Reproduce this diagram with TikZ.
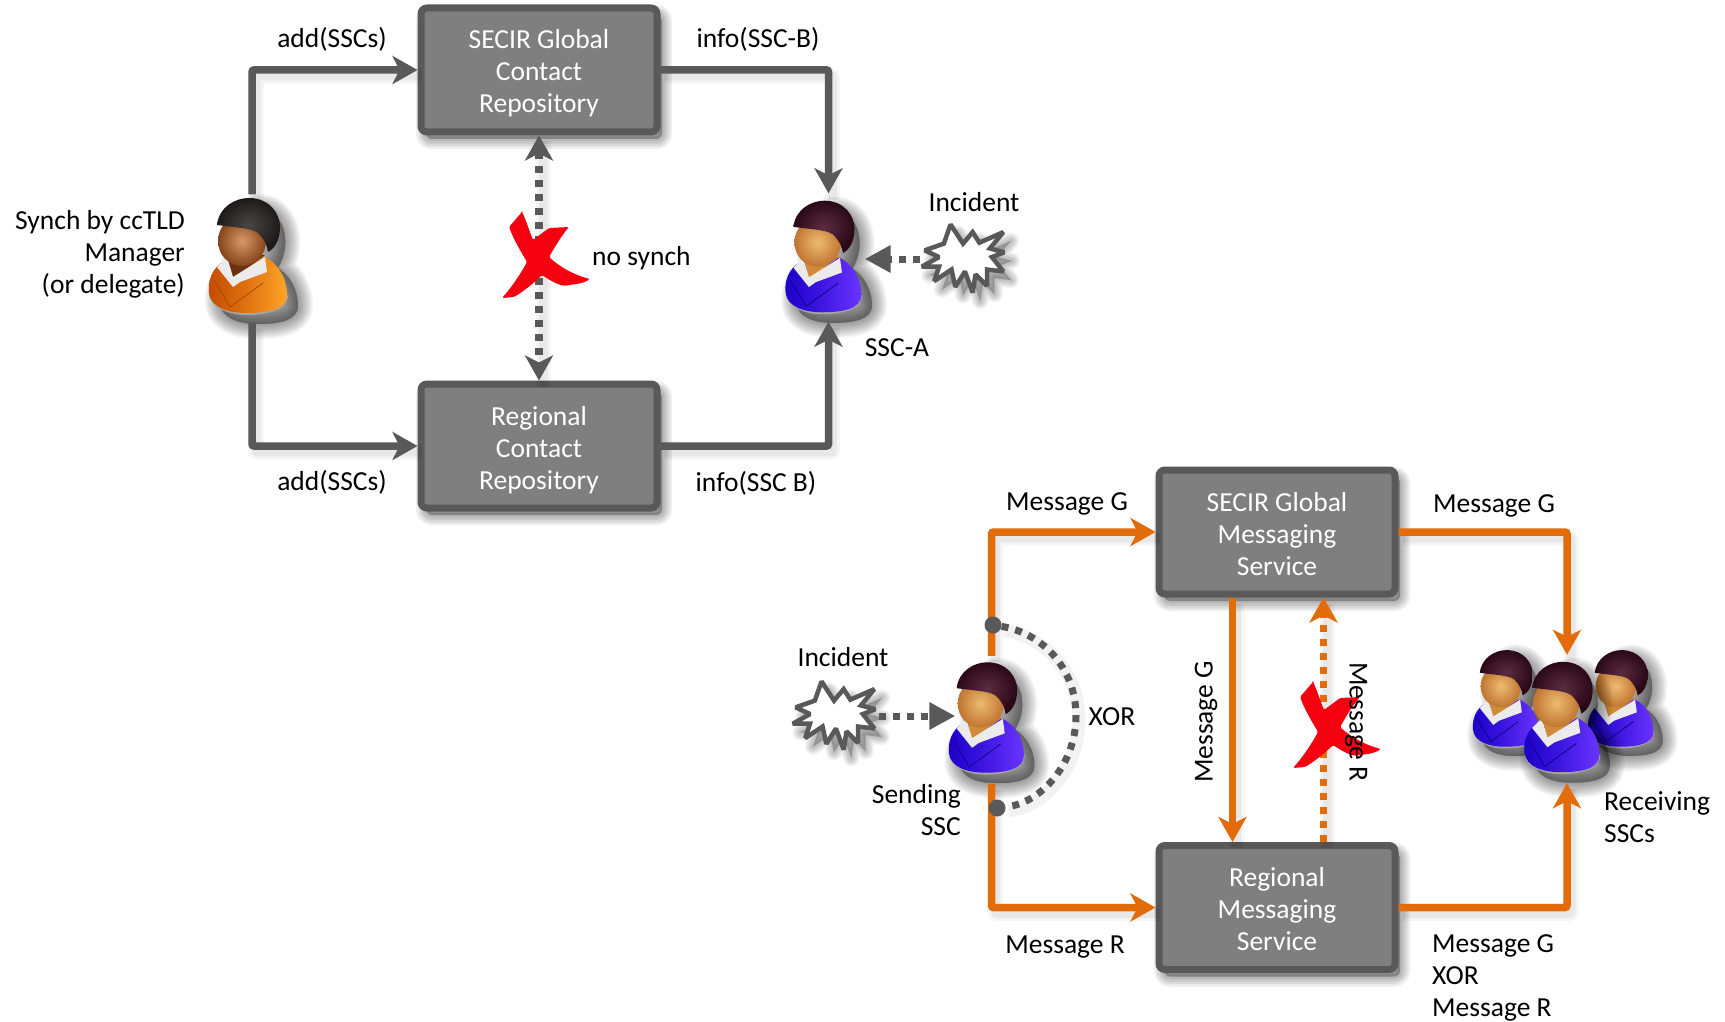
\documentclass[tikz,border=0pt]{standalone}
\usepackage{fontspec}
\setmainfont{Carlito}
\usetikzlibrary{arrows.meta,shapes.misc}
\definecolor{lnGray}{HTML}{595959}
\definecolor{boxGray}{HTML}{7F7F7F}
\definecolor{lnOrange}{HTML}{E36C0A}
\definecolor{xRed}{HTML}{F5000F}
\newcommand\softlayers[1]{\foreach \w in {30,27,24,21,18,15,12,9,6,3}{\path[fill=black,draw=black,fill opacity=.042,draw opacity=.042,line width=\w pt,line join=round] #1;}}
\newcommand\boxtext[3]{\rule{0pt}{29pt}#1\\#2\\#3\rule[-7pt]{0pt}{7pt}}
\newcommand\orangepal{\definecolor{bodyA}{HTML}{C44A00}\definecolor{bodyB}{HTML}{FFA426}\definecolor{skinA}{HTML}{D59A66}\definecolor{skinB}{HTML}{85431A}\definecolor{hairA}{HTML}{4A4644}\definecolor{hairB}{HTML}{1E1A18}\definecolor{lapel}{HTML}{A84A00}\definecolor{neckC}{HTML}{6E3110}}
\newcommand\bluepal{\definecolor{bodyA}{HTML}{1A00C8}\definecolor{bodyB}{HTML}{6A34FF}\definecolor{skinA}{HTML}{EDBB72}\definecolor{skinB}{HTML}{C07530}\definecolor{hairA}{HTML}{5C2C40}\definecolor{hairB}{HTML}{2A0818}\definecolor{lapel}{HTML}{14008C}\definecolor{neckC}{HTML}{D08A3A}}
% #1 position, #2 scale, #3 palette
\newcommand\drawperson[3]{\begin{scope}[shift={#1},scale=#2]#3
 \begin{scope}[shift={(11,11)}]
  \softlayers{(-38,38) .. controls (-40,20) and (-30,8) .. (-18,4) .. controls (-32,-30) and (-15,-57) .. (2,-57) .. controls (24,-57) and (36,-25) .. (20,2) .. controls (30,8) and (40,22) .. (40,40) .. controls (40,55) and (20,58) .. (0,58) .. controls (-20,58) and (-36,52) .. (-38,38) -- cycle}
 \end{scope}
 \path[fill=white!65!black] (-38,40) .. controls (-36,52) and (-20,60) .. (0,60) .. controls (20,60) and (41,55) .. (41,40) -- cycle;
 \path[left color=bodyA,right color=bodyB,middle color=bodyA!55!bodyB] (-38,38) .. controls (-40,20) and (-30,8) .. (-18,4) -- (18,2) .. controls (30,8) and (40,22) .. (40,40) .. controls (40,55) and (20,58) .. (0,58) .. controls (-20,58) and (-36,52) .. (-38,38) -- cycle;
 \path[draw=lapel,line width=.8pt] (-33,25) -- (-17,52) -- (16,28);
 \path[fill=neckC] (-20,0) -- (18,0) -- (-14,24) -- cycle;
 \path[fill=white!92!black] (-30,12) -- (-20,2) -- (-14,22) -- (18,2) -- (20,17) -- (-7,27) -- (-14,32) -- cycle;
 \path[inner color=skinA,outer color=skinB] (-5,-14) ellipse (24 and 25);
 \path[inner color=hairA,outer color=hairB] (-30,-30) .. controls (-28,-48) and (-12,-57) .. (2,-57) .. controls (22,-57) and (33,-42) .. (33,-28) .. controls (33,-14) and (27,-6) .. (21,-3) .. controls (20,-10) and (18,-14) .. (13,-20) .. controls (8,-27) and (-8,-27) .. (-30,-30) -- cycle;
\end{scope}}
\newcommand\drawstar[1]{\begin{scope}[shift={#1},scale=.96]
 \def\starpath{(-14,-36) -- (-1,-16) -- (9,-28) -- (16,-17) -- (41,-28) -- (27,-11) -- (42,-7) -- (29,-2) -- (41,13) -- (24,11) -- (24,28) -- (12,16) -- (9,35) -- (1,13) -- (-9,29) -- (-13,11) -- (-31,23) -- (-26,8) -- (-44,8) -- (-26,-2) -- (-41,-9) -- (-21,-16) -- cycle}
 \begin{scope}[shift={(8,9)}]\foreach \w in {16,13,10,7,4}{\path[fill=black,draw=black,fill opacity=.05,draw opacity=.05,line width=\w pt,line join=round] \starpath;}\end{scope}
 \path[fill=white,draw=lnGray,line width=4.5pt,miter limit=2] \starpath;
\end{scope}}
\newcommand\drawcross[1]{\begin{scope}[shift={#1}]
 \path[fill=xRed,rounded corners=1.5pt] (-24,-43) -- (-37,-28) .. controls (-32,-15) and (-26,-5) .. (-19,7) .. controls (-26,20) and (-35,33) .. (-44,43) -- (-32,42) .. controls (-22,36) and (-12,28) .. (-4,20) .. controls (5,26) and (15,32) .. (23,30) .. controls (32,29) and (38,28) .. (44,24) .. controls (28,20) and (14,12) .. (3,2) .. controls (10,-10) and (16,-20) .. (23,-28) -- (3,-27) -- (-13,-15) .. controls (-17,-25) and (-20,-35) .. (-24,-43) -- cycle;
\end{scope}}
\tikzset{
 every node/.style={font=\fontsize{27.5}{32}\selectfont,inner sep=0pt,text=black},
 boxnode/.style={draw=lnGray,fill=boxGray,line width=7pt,rounded corners=6pt,minimum width=236pt,minimum height=124pt,align=center,text=white,
  preaction={fill=black,draw=black,fill opacity=.07,draw opacity=.07,line width=20pt,transform canvas={xshift=5pt,yshift=-7pt}},
  preaction={fill=black,draw=black,fill opacity=.08,draw opacity=.08,line width=15pt,transform canvas={xshift=5pt,yshift=-7pt}},
  preaction={fill=black,draw=black,fill opacity=.08,draw opacity=.08,line width=10pt,transform canvas={xshift=5pt,yshift=-7pt}},
  preaction={fill=black,draw=black,fill opacity=.08,draw opacity=.08,line width=5pt,transform canvas={xshift=5pt,yshift=-7pt}}},
 persona/.style={minimum width=72pt,minimum height=128pt},
 cloudnode/.style={minimum width=87pt,minimum height=73pt},
 lbl/.style={align=center},
 lblr/.style={align=right},
 lbll/.style={align=left},
 wire/.style={line width=7.5pt,rounded corners=2pt,
  preaction={draw=black,draw opacity=.04,line width=15pt,-,transform canvas={xshift=4pt,yshift=-6pt}},
  preaction={draw=black,draw opacity=.05,line width=9pt,-,transform canvas={xshift=4pt,yshift=-6pt}}},
 grayline/.style={wire,draw=lnGray,-{Stealth[length=25pt,width=28pt,inset=7pt]}},
 orangeline/.style={wire,draw=lnOrange,-{Stealth[length=25pt,width=28pt,inset=7pt]}},
 dotted line/.style={dash pattern=on 7pt off 7pt},
 incidentline/.style={line width=7pt,draw=lnGray,dash pattern=on 7pt off 7pt,-{Triangle[length=26pt,width=26pt]}},
 dotnode/.style={circle,fill=lnGray,minimum size=17pt},
}
\begin{document}
\begin{tikzpicture}[x=1pt,y=-1pt]
\useasboundingbox (0,0) rectangle (1725,1022);
\fill[white] (0,0) rectangle (1725,1022);
% boxes
\node[boxnode] (box1) at (539,70) {\boxtext{SECIR Global}{Contact}{Repository}};
\node[boxnode] (box2) at (539,446) {\boxtext{Regional}{Contact}{Repository}};
\node[boxnode] (box3) at (1277,532) {\boxtext{SECIR Global}{Messaging}{Service}};
\node[boxnode] (box4) at (1277,907.5) {\boxtext{Regional}{Messaging}{Service}};
% people
\node[persona] (mgr) at (252,258.5) {};
\drawperson{(247,255)}{1}{\orangepal}
\node[persona] (ssca) at (828.5,257.5) {};
\drawperson{(822.5,256)}{.97}{\bluepal}
\node[persona] (send) at (991.5,720) {};
\drawperson{(985.5,717)}{.96}{\bluepal}
\node[minimum width=190pt,minimum height=128pt] (group) at (1567,719) {};
\drawperson{(1505,698)}{.84}{\bluepal}
\drawperson{(1620,698)}{.84}{\bluepal}
\drawperson{(1561,716.5)}{.96}{\bluepal}
% incidents
\node[cloudnode] (inc1) at (964,259) {};
\drawstar{(964,259)}
\node[cloudnode] (inc2) at (835,716) {};
\drawstar{(835,716)}
% invisible helpers
\coordinate (mgx) at (1232.5,0);
\coordinate (mrx) at (1323.5,0);
\coordinate (xm) at (1076,716);
% gray connectors
\draw[grayline] (mgr.north) |- (box1.west);
\draw[grayline] (mgr.south) |- (box2.west);
\draw[grayline] (box1.east) -| (ssca.north);
\draw[grayline] (box2.east) -| (ssca.south);
\draw[wire,draw=lnGray,dotted line,{Stealth[length=25pt,width=28pt,inset=7pt]}-{Stealth[length=25pt,width=28pt,inset=7pt]}] (box1.south) -- (box2.north);
\draw[incidentline] (inc1.west) -- (inc1.west -| ssca.east);
\draw[incidentline] (inc2.east) -- (inc2.east -| send.west);
% orange connectors
\draw[orangeline] (send.north) |- (box3.west);
\draw[orangeline] (send.south) |- (box4.west);
\draw[orangeline] (box3.east) -| (group.north);
\draw[orangeline] (box4.east) -| (group.south);
\draw[orangeline] (box3.south -| mgx) -- (box4.north -| mgx);
\draw[orangeline,dotted line] (box4.north -| mrx) -- (box3.south -| mrx);
% XOR arc
\node[dotnode] (d1) at (993,625) {};
\node[dotnode] (d2) at (997,808) {};
\draw[line width=7pt,draw=lnGray,dash pattern=on 7pt off 7pt,
  preaction={draw=black,draw opacity=.05,line width=13pt,transform canvas={xshift=3pt,yshift=-4pt}}]
  (d1) .. controls (1042,633) and (1076,668) .. (xm) .. controls (1076,763) and (1042,803) .. (d2);
% crosses
\drawcross{(546,255)}
\drawcross{(1337,725)}
% labels
\node[lbl] (l1) at (332,39) {add(SSCs)};
\node[lbl] (l2) at (332,482) {add(SSCs)};
\node[lbl] (l3) at (758,39) {info(SSC-B)};
\node[lbl] (l4) at (756,483) {info(SSC B)};
\node[lblr,anchor=east] (l5) at (185,254) {Synch by ccTLD\\Manager\\(or delegate)};
\node[lbll,anchor=west] (l6) at (592,258) {no synch};
\node[lbl] (l7) at (974,202) {Incident};
\node[lbl] (l8) at (897,348) {SSC-A};
\node[lbl] (l9) at (1067,504) {Message G};
\node[lbl] (l10) at (1494,506) {Message G};
\node[lbl] (l11) at (1065,947) {Message R};
\node[lbll,anchor=west] (l12) at (1432,978) {Message G\\XOR\\Message R};
\node[lbl] (l13) at (843,657) {Incident};
\node[lblr,anchor=east] (l14) at (961,810) {Sending\\SSC};
\node[lbl] (l15) at (1112,717) {XOR};
\node[lbl,rotate=90] (l16) at (1206,722) {Message G};
\node[lbl,rotate=-90] (l17) at (1356,722) {Message R};
\node[lbll,anchor=west] (l18) at (1604,817) {Receiving\\SSCs};
\end{tikzpicture}
\end{document}
